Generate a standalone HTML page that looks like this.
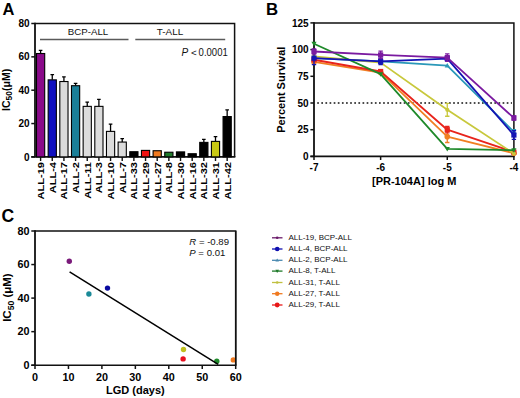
<!DOCTYPE html>
<html><head><meta charset="utf-8"><style>
html,body{margin:0;padding:0;background:#fff;}
svg{display:block;font-family:"Liberation Sans", sans-serif;}
</style></head><body>
<svg width="520" height="398" viewBox="0 0 520 398" fill="#000">
<rect width="520" height="398" fill="#fff"/>
<text x="2.6" y="14.9" font-size="16.5" font-weight="bold">A</text>
<path d="M35.0,23.4 H234.6 V156.9" fill="none" stroke="#111" stroke-width="1.5"/>
<path d="M35.0,22.65 V156.9 " fill="none" stroke="#111" stroke-width="1.8"/>
<path d="M31.3,156.9 H235.35" fill="none" stroke="#111" stroke-width="1.6"/>
<path d="M31.3,156.90 H35.0" stroke="#111" stroke-width="1.5"/>
<text x="29.6" y="160.50" font-size="10" font-weight="bold" text-anchor="end">0</text>
<path d="M31.3,123.55 H35.0" stroke="#111" stroke-width="1.5"/>
<text x="29.6" y="127.15" font-size="10" font-weight="bold" text-anchor="end">20</text>
<path d="M31.3,90.20 H35.0" stroke="#111" stroke-width="1.5"/>
<text x="29.6" y="93.80" font-size="10" font-weight="bold" text-anchor="end">40</text>
<path d="M31.3,56.85 H35.0" stroke="#111" stroke-width="1.5"/>
<text x="29.6" y="60.45" font-size="10" font-weight="bold" text-anchor="end">60</text>
<path d="M31.3,23.50 H35.0" stroke="#111" stroke-width="1.5"/>
<text x="29.6" y="27.10" font-size="10" font-weight="bold" text-anchor="end">80</text>
<text transform="translate(9.8,89.9) rotate(-90)" font-size="10.6" font-weight="bold" text-anchor="middle">IC<tspan font-size="8.4" dy="2.5">50</tspan><tspan dy="-2.5">(μM)</tspan></text>
<text x="88.0" y="34.5" font-size="9.7" text-anchor="middle" fill="#111">BCP-ALL</text>
<text x="170.0" y="34.6" font-size="9.9" text-anchor="middle" fill="#111">T-ALL</text>
<path d="M40,39.4 H128.5 M135.3,39.4 H225.2" stroke="#5a5a5a" stroke-width="1.5"/>
<text x="181.4" y="56.2" font-size="10" font-style="italic" fill="#111">P</text><text x="190.9" y="56.0" font-size="9.8" fill="#111">&lt;</text><text x="198.6" y="56.0" font-size="10.2" textLength="29.2" lengthAdjust="spacingAndGlyphs" fill="#111">0.0001</text>
<path d="M40.60,53.52 V50.35 M38.80,50.35 H42.40" stroke="#000" stroke-width="1.3"/>
<rect x="36.50" y="53.52" width="8.2" height="103.39" fill="#8a0a8a" stroke="#000" stroke-width="1.1"/>
<path d="M40.60,156.9 V161" stroke="#111" stroke-width="1.4"/>
<text transform="translate(44.00,162.0) rotate(-90) scale(1.065,0.88)" font-size="10.4" font-weight="bold" text-anchor="end">ALL-19</text>
<path d="M52.26,79.86 V74.53 M50.46,74.53 H54.06" stroke="#000" stroke-width="1.3"/>
<rect x="48.16" y="79.86" width="8.2" height="77.04" fill="#1010c0" stroke="#000" stroke-width="1.1"/>
<path d="M52.26,156.9 V161" stroke="#111" stroke-width="1.4"/>
<text transform="translate(55.66,162.0) rotate(-90) scale(1.065,0.88)" font-size="10.4" font-weight="bold" text-anchor="end">ALL-4</text>
<path d="M63.92,81.53 V76.86 M62.12,76.86 H65.72" stroke="#000" stroke-width="1.3"/>
<rect x="59.82" y="81.53" width="8.2" height="75.37" fill="#dcdcdc" stroke="#000" stroke-width="1.1"/>
<path d="M63.92,156.9 V161" stroke="#111" stroke-width="1.4"/>
<text transform="translate(67.32,162.0) rotate(-90) scale(1.065,0.88)" font-size="10.4" font-weight="bold" text-anchor="end">ALL-17</text>
<path d="M75.58,85.70 V83.36 M73.78,83.36 H77.38" stroke="#000" stroke-width="1.3"/>
<rect x="71.48" y="85.70" width="8.2" height="71.20" fill="#1a7f98" stroke="#000" stroke-width="1.1"/>
<path d="M75.58,156.9 V161" stroke="#111" stroke-width="1.4"/>
<text transform="translate(78.98,162.0) rotate(-90) scale(1.065,0.88)" font-size="10.4" font-weight="bold" text-anchor="end">ALL-2</text>
<path d="M87.24,106.37 V102.21 M85.44,102.21 H89.04" stroke="#000" stroke-width="1.3"/>
<rect x="83.14" y="106.37" width="8.2" height="50.53" fill="#dcdcdc" stroke="#000" stroke-width="1.1"/>
<path d="M87.24,156.9 V161" stroke="#111" stroke-width="1.4"/>
<text transform="translate(90.64,162.0) rotate(-90) scale(1.065,0.88)" font-size="10.4" font-weight="bold" text-anchor="end">ALL-11</text>
<path d="M98.90,106.37 V99.37 M97.10,99.37 H100.70" stroke="#000" stroke-width="1.3"/>
<rect x="94.80" y="106.37" width="8.2" height="50.53" fill="#dcdcdc" stroke="#000" stroke-width="1.1"/>
<path d="M98.90,156.9 V161" stroke="#111" stroke-width="1.4"/>
<text transform="translate(102.30,162.0) rotate(-90) scale(1.065,0.88)" font-size="10.4" font-weight="bold" text-anchor="end">ALL-3</text>
<path d="M110.56,131.39 V124.22 M108.76,124.22 H112.36" stroke="#000" stroke-width="1.3"/>
<rect x="106.46" y="131.39" width="8.2" height="25.51" fill="#dcdcdc" stroke="#000" stroke-width="1.1"/>
<path d="M110.56,156.9 V161" stroke="#111" stroke-width="1.4"/>
<text transform="translate(113.96,162.0) rotate(-90) scale(1.065,0.88)" font-size="10.4" font-weight="bold" text-anchor="end">ALL-10</text>
<path d="M122.22,142.06 V138.72 M120.42,138.72 H124.02" stroke="#000" stroke-width="1.3"/>
<rect x="118.12" y="142.06" width="8.2" height="14.84" fill="#dcdcdc" stroke="#000" stroke-width="1.1"/>
<path d="M122.22,156.9 V161" stroke="#111" stroke-width="1.4"/>
<text transform="translate(125.62,162.0) rotate(-90) scale(1.065,0.88)" font-size="10.4" font-weight="bold" text-anchor="end">ALL-7</text>
<rect x="129.78" y="151.73" width="8.2" height="5.17" fill="#000" stroke="#000" stroke-width="1.1"/>
<path d="M133.88,156.9 V161" stroke="#111" stroke-width="1.4"/>
<text transform="translate(137.28,162.0) rotate(-90) scale(1.065,0.88)" font-size="10.4" font-weight="bold" text-anchor="end">ALL-33</text>
<rect x="141.44" y="150.40" width="8.2" height="6.50" fill="#ee1111" stroke="#000" stroke-width="1.1"/>
<path d="M145.54,156.9 V161" stroke="#111" stroke-width="1.4"/>
<text transform="translate(148.94,162.0) rotate(-90) scale(1.065,0.88)" font-size="10.4" font-weight="bold" text-anchor="end">ALL-29</text>
<rect x="153.10" y="150.73" width="8.2" height="6.17" fill="#f07a20" stroke="#000" stroke-width="1.1"/>
<path d="M157.20,156.9 V161" stroke="#111" stroke-width="1.4"/>
<text transform="translate(160.60,162.0) rotate(-90) scale(1.065,0.88)" font-size="10.4" font-weight="bold" text-anchor="end">ALL-27</text>
<rect x="164.76" y="152.23" width="8.2" height="4.67" fill="#1f7a2a" stroke="#000" stroke-width="1.1"/>
<path d="M168.86,156.9 V161" stroke="#111" stroke-width="1.4"/>
<text transform="translate(172.26,162.0) rotate(-90) scale(1.065,0.88)" font-size="10.4" font-weight="bold" text-anchor="end">ALL-8</text>
<rect x="176.42" y="151.90" width="8.2" height="5.00" fill="#000" stroke="#000" stroke-width="1.1"/>
<path d="M180.52,156.9 V161" stroke="#111" stroke-width="1.4"/>
<text transform="translate(183.92,162.0) rotate(-90) scale(1.065,0.88)" font-size="10.4" font-weight="bold" text-anchor="end">ALL-30</text>
<rect x="188.08" y="153.73" width="8.2" height="3.17" fill="#000" stroke="#000" stroke-width="1.1"/>
<path d="M192.18,156.9 V161" stroke="#111" stroke-width="1.4"/>
<text transform="translate(195.58,162.0) rotate(-90) scale(1.065,0.88)" font-size="10.4" font-weight="bold" text-anchor="end">ALL-16</text>
<path d="M203.84,142.39 V139.39 M202.04,139.39 H205.64" stroke="#000" stroke-width="1.3"/>
<rect x="199.74" y="142.39" width="8.2" height="14.51" fill="#000" stroke="#000" stroke-width="1.1"/>
<path d="M203.84,156.9 V161" stroke="#111" stroke-width="1.4"/>
<text transform="translate(207.24,162.0) rotate(-90) scale(1.065,0.88)" font-size="10.4" font-weight="bold" text-anchor="end">ALL-32</text>
<path d="M215.50,141.39 V136.72 M213.70,136.72 H217.30" stroke="#000" stroke-width="1.3"/>
<rect x="211.40" y="141.39" width="8.2" height="15.51" fill="#c8c814" stroke="#000" stroke-width="1.1"/>
<path d="M215.50,156.9 V161" stroke="#111" stroke-width="1.4"/>
<text transform="translate(218.90,162.0) rotate(-90) scale(1.065,0.88)" font-size="10.4" font-weight="bold" text-anchor="end">ALL-31</text>
<path d="M227.16,116.55 V109.88 M225.36,109.88 H228.96" stroke="#000" stroke-width="1.3"/>
<rect x="223.06" y="116.55" width="8.2" height="40.35" fill="#000" stroke="#000" stroke-width="1.1"/>
<path d="M227.16,156.9 V161" stroke="#111" stroke-width="1.4"/>
<text transform="translate(230.56,162.0) rotate(-90) scale(1.065,0.88)" font-size="10.4" font-weight="bold" text-anchor="end">ALL-42</text>
<text x="266.1" y="15" font-size="16.8" font-weight="bold">B</text>
<path d="M314.0,22.9 H513.9 V156.4" fill="none" stroke="#111" stroke-width="1.5"/>
<path d="M314.0,22.15 V156.4" fill="none" stroke="#111" stroke-width="1.8"/>
<path d="M310.4,156.4 H514.65" fill="none" stroke="#111" stroke-width="1.6"/>
<path d="M310.4,156.40 H314.0" stroke="#111" stroke-width="1.5"/>
<text x="308.6" y="160.00" font-size="10" font-weight="bold" text-anchor="end">0</text>
<path d="M310.4,129.70 H314.0" stroke="#111" stroke-width="1.5"/>
<text x="308.6" y="133.30" font-size="10" font-weight="bold" text-anchor="end">25</text>
<path d="M310.4,103.00 H314.0" stroke="#111" stroke-width="1.5"/>
<text x="308.6" y="106.60" font-size="10" font-weight="bold" text-anchor="end">50</text>
<path d="M310.4,76.30 H314.0" stroke="#111" stroke-width="1.5"/>
<text x="308.6" y="79.90" font-size="10" font-weight="bold" text-anchor="end">75</text>
<path d="M310.4,49.60 H314.0" stroke="#111" stroke-width="1.5"/>
<text x="308.6" y="53.20" font-size="10" font-weight="bold" text-anchor="end">100</text>
<path d="M310.4,22.90 H314.0" stroke="#111" stroke-width="1.5"/>
<text x="308.6" y="26.50" font-size="10" font-weight="bold" text-anchor="end">125</text>
<path d="M314.00,156.4 V160" stroke="#111" stroke-width="1.5"/>
<text x="314.00" y="170.8" font-size="10" font-weight="bold" text-anchor="middle">-7</text>
<path d="M380.63,156.4 V160" stroke="#111" stroke-width="1.5"/>
<text x="380.63" y="170.8" font-size="10" font-weight="bold" text-anchor="middle">-6</text>
<path d="M447.27,156.4 V160" stroke="#111" stroke-width="1.5"/>
<text x="447.27" y="170.8" font-size="10" font-weight="bold" text-anchor="middle">-5</text>
<path d="M513.90,156.4 V160" stroke="#111" stroke-width="1.5"/>
<text x="513.90" y="170.8" font-size="10" font-weight="bold" text-anchor="middle">-4</text>
<text x="414.2" y="184.6" font-size="11" font-weight="bold" text-anchor="middle">[PR-104A] log M</text>
<text transform="translate(284.8,89.7) rotate(-90)" font-size="11" font-weight="bold" text-anchor="middle">Percent Survival</text>
<path d="M317.2,103.00 H512" stroke="#111" stroke-width="1.7" stroke-dasharray="1.7 2.42"/>
<polyline points="314.00,58.14 380.63,61.35 447.27,65.62 513.90,131.84" fill="none" stroke="#2a98b8" stroke-width="1.8" stroke-linejoin="round"/>
<path d="M314.00,55.54 L316.60,60.14 L311.40,60.14Z" fill="#2a98b8"/>
<path d="M380.63,58.75 L383.23,63.35 L378.03,63.35Z" fill="#2a98b8"/>
<path d="M447.27,63.02 L449.87,67.62 L444.67,67.62Z" fill="#2a98b8"/>
<path d="M513.90,129.70 V133.97 M511.70,129.70 H516.10 M511.70,133.97 H516.10" stroke="#2a98b8" stroke-width="1.3"/>
<path d="M513.90,129.24 L516.50,133.84 L511.30,133.84Z" fill="#2a98b8"/>
<polyline points="314.00,61.88 380.63,72.56 447.27,136.64 513.90,153.20" fill="none" stroke="#f07f22" stroke-width="1.8" stroke-linejoin="round"/>
<circle cx="314.00" cy="61.88" r="2.8" fill="#f07f22"/>
<circle cx="380.63" cy="72.56" r="2.8" fill="#f07f22"/>
<path d="M447.27,130.77 V142.52 M445.07,130.77 H449.47 M445.07,142.52 H449.47" stroke="#f07f22" stroke-width="1.3"/>
<circle cx="447.27" cy="136.64" r="2.8" fill="#f07f22"/>
<circle cx="513.90" cy="153.20" r="2.8" fill="#f07f22"/>
<polyline points="314.00,59.75 380.63,71.49 447.27,129.70 513.90,152.13" fill="none" stroke="#e8241c" stroke-width="1.8" stroke-linejoin="round"/>
<rect x="311.40" y="57.15" width="5.2" height="5.2" fill="#e8241c"/>
<rect x="378.03" y="68.89" width="5.2" height="5.2" fill="#e8241c"/>
<path d="M447.27,126.50 V132.90 M445.07,126.50 H449.47 M445.07,132.90 H449.47" stroke="#e8241c" stroke-width="1.3"/>
<rect x="444.67" y="127.10" width="5.2" height="5.2" fill="#e8241c"/>
<rect x="511.30" y="149.53" width="5.2" height="5.2" fill="#e8241c"/>
<polyline points="314.00,56.44 380.63,62.63 447.27,109.84 513.90,153.52" fill="none" stroke="#c8c83c" stroke-width="1.8" stroke-linejoin="round"/>
<circle cx="314.00" cy="56.44" r="2.1" fill="#c8c83c"/>
<circle cx="380.63" cy="62.63" r="2.1" fill="#c8c83c"/>
<path d="M447.27,103.43 V116.24 M445.07,103.43 H449.47 M445.07,116.24 H449.47" stroke="#c8c83c" stroke-width="1.3"/>
<circle cx="447.27" cy="109.84" r="2.1" fill="#c8c83c"/>
<circle cx="513.90" cy="153.52" r="2.1" fill="#c8c83c"/>
<polyline points="314.00,43.73 380.63,74.16 447.27,148.92 513.90,150.21" fill="none" stroke="#1f8a2a" stroke-width="1.8" stroke-linejoin="round"/>
<path d="M314.00,46.33 L316.60,41.73 L311.40,41.73Z" fill="#1f8a2a"/>
<path d="M380.63,76.76 L383.23,72.16 L378.03,72.16Z" fill="#1f8a2a"/>
<path d="M447.27,151.52 L449.87,146.92 L444.67,146.92Z" fill="#1f8a2a"/>
<path d="M513.90,152.81 L516.50,148.21 L511.30,148.21Z" fill="#1f8a2a"/>
<polyline points="314.00,58.14 380.63,61.35 447.27,58.68 513.90,135.04" fill="none" stroke="#1414b4" stroke-width="1.8" stroke-linejoin="round"/>
<path d="M314.00,51.74 V64.55 M311.80,51.74 H316.20 M311.80,64.55 H316.20" stroke="#1414b4" stroke-width="1.3"/>
<rect x="311.40" y="55.54" width="5.2" height="5.2" fill="#1414b4"/>
<path d="M380.63,58.14 V64.55 M378.43,58.14 H382.83 M378.43,64.55 H382.83" stroke="#1414b4" stroke-width="1.3"/>
<rect x="378.03" y="58.75" width="5.2" height="5.2" fill="#1414b4"/>
<rect x="444.67" y="56.08" width="5.2" height="5.2" fill="#1414b4"/>
<path d="M513.90,130.77 V139.31 M511.70,130.77 H516.10 M511.70,139.31 H516.10" stroke="#1414b4" stroke-width="1.3"/>
<rect x="511.30" y="132.44" width="5.2" height="5.2" fill="#1414b4"/>
<polyline points="314.00,51.52 380.63,54.94 447.27,57.61 513.90,117.95" fill="none" stroke="#7a1aa0" stroke-width="1.8" stroke-linejoin="round"/>
<path d="M314.00,48.85 V54.19 M311.80,48.85 H316.20 M311.80,54.19 H316.20" stroke="#7a1aa0" stroke-width="1.3"/>
<rect x="311.40" y="48.92" width="5.2" height="5.2" fill="#7a1aa0"/>
<path d="M380.63,51.20 V58.68 M378.43,51.20 H382.83 M378.43,58.68 H382.83" stroke="#7a1aa0" stroke-width="1.3"/>
<rect x="378.03" y="52.34" width="5.2" height="5.2" fill="#7a1aa0"/>
<path d="M447.27,53.87 V61.35 M445.07,53.87 H449.47 M445.07,61.35 H449.47" stroke="#7a1aa0" stroke-width="1.3"/>
<rect x="444.67" y="55.01" width="5.2" height="5.2" fill="#7a1aa0"/>
<path d="M513.90,115.82 V120.09 M511.70,115.82 H516.10 M511.70,120.09 H516.10" stroke="#7a1aa0" stroke-width="1.3"/>
<rect x="511.30" y="115.35" width="5.2" height="5.2" fill="#7a1aa0"/>
<text x="1.6" y="222.4" font-size="17.6" font-weight="bold">C</text>
<path d="M35.0,231 H235.7 V365.2" fill="none" stroke="#111" stroke-width="1.5"/>
<path d="M35.0,230.25 V365.2" fill="none" stroke="#111" stroke-width="1.8"/>
<path d="M31.3,365.2 H236.45" fill="none" stroke="#111" stroke-width="1.6"/>
<path d="M31.3,365.20 H35.0" stroke="#111" stroke-width="1.5"/>
<text x="29.6" y="369.00" font-size="10.8" font-weight="bold" text-anchor="end">0</text>
<path d="M31.3,331.65 H35.0" stroke="#111" stroke-width="1.5"/>
<text x="29.6" y="335.45" font-size="10.8" font-weight="bold" text-anchor="end">20</text>
<path d="M31.3,298.10 H35.0" stroke="#111" stroke-width="1.5"/>
<text x="29.6" y="301.90" font-size="10.8" font-weight="bold" text-anchor="end">40</text>
<path d="M31.3,264.55 H35.0" stroke="#111" stroke-width="1.5"/>
<text x="29.6" y="268.35" font-size="10.8" font-weight="bold" text-anchor="end">60</text>
<path d="M31.3,231.00 H35.0" stroke="#111" stroke-width="1.5"/>
<text x="29.6" y="234.80" font-size="10.8" font-weight="bold" text-anchor="end">80</text>
<path d="M35.00,365.2 V369" stroke="#111" stroke-width="1.5"/>
<text x="35.00" y="381.1" font-size="10.8" font-weight="bold" text-anchor="middle">0</text>
<path d="M68.45,365.2 V369" stroke="#111" stroke-width="1.5"/>
<text x="68.45" y="381.1" font-size="10.8" font-weight="bold" text-anchor="middle">10</text>
<path d="M101.90,365.2 V369" stroke="#111" stroke-width="1.5"/>
<text x="101.90" y="381.1" font-size="10.8" font-weight="bold" text-anchor="middle">20</text>
<path d="M135.35,365.2 V369" stroke="#111" stroke-width="1.5"/>
<text x="135.35" y="381.1" font-size="10.8" font-weight="bold" text-anchor="middle">30</text>
<path d="M168.80,365.2 V369" stroke="#111" stroke-width="1.5"/>
<text x="168.80" y="381.1" font-size="10.8" font-weight="bold" text-anchor="middle">40</text>
<path d="M202.25,365.2 V369" stroke="#111" stroke-width="1.5"/>
<text x="202.25" y="381.1" font-size="10.8" font-weight="bold" text-anchor="middle">50</text>
<path d="M235.70,365.2 V369" stroke="#111" stroke-width="1.5"/>
<text x="235.70" y="381.1" font-size="10.8" font-weight="bold" text-anchor="middle">60</text>
<text x="135.4" y="394.3" font-size="11" font-weight="bold" text-anchor="middle">LGD (days)</text>
<text transform="translate(10.7,297.6) rotate(-90)" font-size="11.5" font-weight="bold" text-anchor="middle">IC<tspan font-size="8.6" dy="2.9">50</tspan><tspan dy="-2.9"> (μM)</tspan></text>
<circle cx="69.3" cy="261.3" r="2.7" fill="#7a1a7a"/>
<circle cx="88.9" cy="294" r="2.7" fill="#1a8a98"/>
<circle cx="107.5" cy="288.1" r="2.7" fill="#0a0aa0"/>
<circle cx="183.5" cy="349.5" r="2.7" fill="#c0c020"/>
<circle cx="183.1" cy="358.9" r="2.7" fill="#e81020"/>
<circle cx="216.8" cy="361.2" r="2.7" fill="#1f8a2a"/>
<circle cx="233.3" cy="359.9" r="2.7" fill="#f07a20"/>
<path d="M69.6,271.9 L218.2,364.4" stroke="#000" stroke-width="1.5"/>
<path d="M235.7,231 V365.2" fill="none" stroke="#111" stroke-width="1.5"/>
<text x="189.3" y="244.8" font-size="9.6" fill="#111"><tspan font-style="italic">R</tspan> = -0.89</text>
<text x="189.3" y="255.6" font-size="9.6" fill="#111"><tspan font-style="italic">P</tspan> = 0.01</text>
<path d="M272,237.8 H282.5" stroke="#6a1a6a" stroke-width="1.3"/>
<circle cx="277.2" cy="237.8" r="1.3" fill="#6a1a6a"/>
<text x="288.4" y="239.90" font-size="8" fill="#111">ALL-19, BCP-ALL</text>
<path d="M272,249.0 H282.5" stroke="#1010b0" stroke-width="1.3"/>
<circle cx="277.2" cy="249.0" r="2.3" fill="#1010b0"/>
<text x="288.4" y="251.10" font-size="8" fill="#111">ALL-4, BCP-ALL</text>
<path d="M272,260.3 H282.5" stroke="#4a8ab0" stroke-width="1.3"/>
<path d="M277.2,258.5 L279.0,261.56 L275.4,261.56Z" fill="#4a8ab0"/>
<text x="288.4" y="262.40" font-size="8" fill="#111">ALL-2, BCP-ALL</text>
<path d="M272,271.1 H282.5" stroke="#1f7a2a" stroke-width="1.3"/>
<path d="M277.2,272.90000000000003 L279.0,269.84000000000003 L275.4,269.84000000000003Z" fill="#1f7a2a"/>
<text x="288.4" y="273.20" font-size="8" fill="#111">ALL-8, T-ALL</text>
<path d="M272,282.5 H282.5" stroke="#c0c040" stroke-width="1.3"/>
<circle cx="277.2" cy="282.5" r="1.3" fill="#c0c040"/>
<text x="288.4" y="284.60" font-size="8" fill="#111">ALL-31, T-ALL</text>
<path d="M272,293.7 H282.5" stroke="#f07a20" stroke-width="1.3"/>
<circle cx="277.2" cy="293.7" r="2.2" fill="#f07a20"/>
<text x="288.4" y="295.80" font-size="8" fill="#111">ALL-27, T-ALL</text>
<path d="M272,305.0 H282.5" stroke="#e81818" stroke-width="1.3"/>
<circle cx="277.2" cy="305.0" r="2.4" fill="#e81818"/>
<text x="288.4" y="307.10" font-size="8" fill="#111">ALL-29, T-ALL</text>
</svg>
</body></html>
